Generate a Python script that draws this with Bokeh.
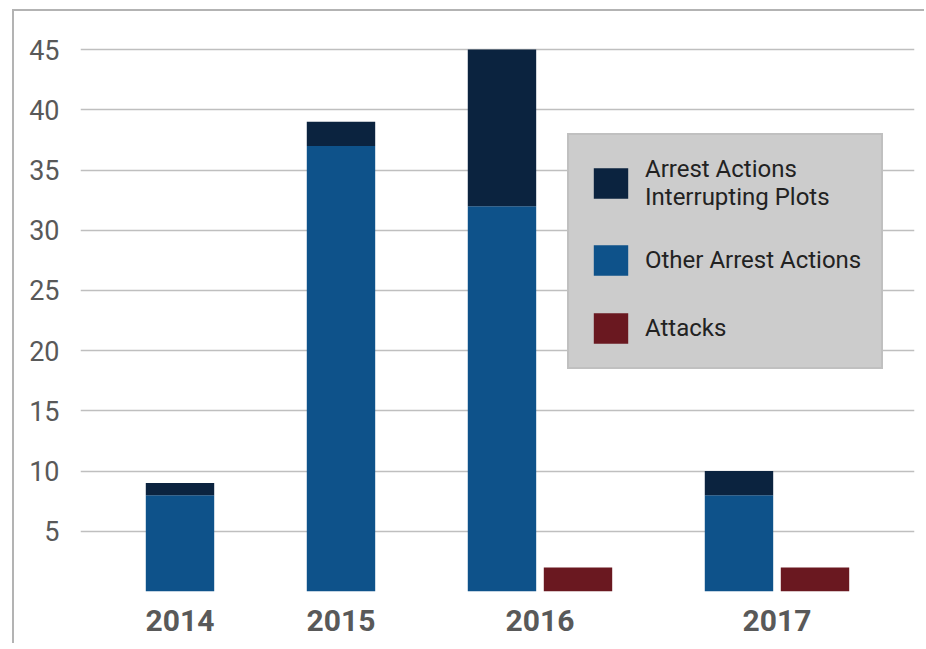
from bokeh.plotting import figure
from bokeh.models import (FactorRange, Range1d, FixedTicker, Legend, LegendItem,
                          ColumnDataSource)
from bokeh.embed import file_html
from bokeh.resources import INLINE

# ---- data ----
years = ["2014", "2015", "2016", "2017"]
plots = [1, 2, 13, 2]          # Arrest Actions Interrupting Plots
other = [8, 37, 32, 8]         # Other Arrest Actions
attacks = [0, 0, 2, 2]         # Attacks
y_ticks = [0, 5, 10, 15, 20, 25, 30, 35, 40, 45]
series_names = ["Arrest Actions\nInterrupting Plots", "Other Arrest Actions", "Attacks"]
colors = ["#0b233f", "#0e528a", "#6a1820"]

FONT = "Roboto"

factors = []
for yr, a in zip(years, attacks):
    factors.append((yr, "arrests"))
    if a > 0:
        factors.append((yr, "attacks"))

arrest_src = ColumnDataSource(dict(x=[(yr, "arrests") for yr in years],
                                   other=other, plots=plots))
attack_src = ColumnDataSource(dict(x=[(yr, "attacks") for yr, a in zip(years, attacks) if a > 0],
                                   attacks=[a for a in attacks if a > 0]))

xr = FactorRange(*factors, factor_padding=0, group_padding=1.118,
                 range_padding=0.809, range_padding_units="absolute")
# asymmetric side padding (more room on the right), if the range allows it
try:
    xr.start = -0.592
    xr.end = 10.394
except Exception:
    pass

p = figure(
    x_range=xr,
    y_range=Range1d(0, 47),
    width=912, height=634,
    output_backend="svg", toolbar_location=None,
    min_border_left=66, min_border_right=12, min_border_top=14, min_border_bottom=54,
)
p.styles = {"margin-left": "12px", "margin-top": "9px",
            "border-left": "2px solid #b3b3b3", "border-top": "2px solid #b3b3b3"}

stack = p.vbar_stack(["other", "plots"], x="x", width=0.9, source=arrest_src,
                     color=[colors[1], colors[0]], line_color=None)
att = p.vbar(x="x", top="attacks", width=0.9, source=attack_src,
             color=colors[2], line_color=None)

legend = Legend(items=[
    LegendItem(label=series_names[0], renderers=[stack[1]]),
    LegendItem(label=series_names[1], renderers=[stack[0]]),
    LegendItem(label=series_names[2], renderers=[att]),
], location=(487, 222))
legend.background_fill_color = "#cccccc"
legend.background_fill_alpha = 1
legend.border_line_color = "#b3b3b3"
legend.border_line_width = 2
legend.glyph_width = 43
legend.glyph_height = 38
legend.label_standoff = 13
legend.padding = 20
legend.spacing = 30
legend.margin = 0
legend.label_height = 38
legend.label_text_font = FONT
legend.label_text_font_size = "24px"
legend.label_text_color = "#222222"
p.add_layout(legend)

p.outline_line_color = None
p.xgrid.grid_line_color = None
p.ygrid.grid_line_color = "#bfbfbf"
p.ygrid.grid_line_width = 1.5

p.yaxis.ticker = FixedTicker(ticks=y_ticks)
p.yaxis.major_label_overrides = {0: ""}
p.yaxis.axis_line_color = None
p.yaxis.major_tick_line_color = None
p.yaxis.minor_tick_line_color = None
p.yaxis.major_label_text_font = FONT
p.yaxis.major_label_text_font_size = "27px"
p.yaxis.major_label_text_color = "#595959"
p.yaxis.major_label_standoff = 15

p.xaxis.axis_line_color = None
p.xaxis.major_tick_line_color = None
p.xaxis.minor_tick_line_color = None
p.xaxis.major_label_text_font_size = "1px"
p.xaxis.major_label_text_color = None
p.xaxis.major_label_standoff = 12
p.xaxis.separator_line_color = None
p.xaxis.group_text_font = FONT
p.xaxis.group_text_font_size = "30px"
p.xaxis.group_text_font_style = "bold"
p.xaxis.group_text_color = "#595959"
p.xaxis.group_label_orientation = "horizontal"

open("out.html", "w").write(file_html(p, INLINE))
